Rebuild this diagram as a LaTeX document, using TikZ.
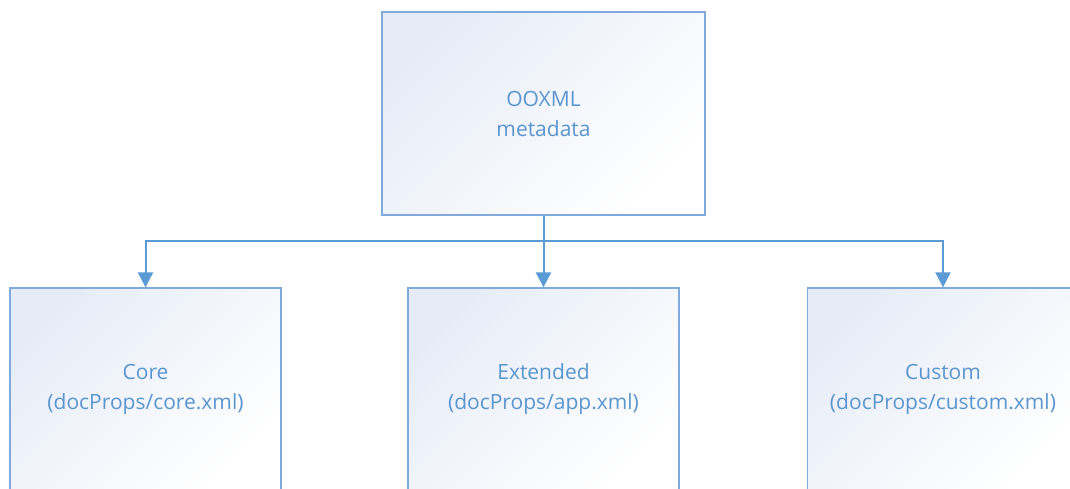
\documentclass[tikz,border=0pt]{standalone}
\usepackage{fontspec}
\setmainfont{Open Sans}
\usetikzlibrary{arrows.meta}
\definecolor{lineblue}{HTML}{5B9BD5}
\definecolor{boxedge}{HTML}{7FAADB}
\definecolor{txtblue}{HTML}{5B95D0}
\definecolor{shadeblue}{HTML}{E6ECF7}
\tikzset{
  x=1pt, y=-1pt,
  box/.style={draw=boxedge, line width=1.3pt, rectangle, inner sep=0pt,
    left color=shadeblue, right color=white, shading angle=45,
    text=txtblue, align=center, font=\fontsize{21}{30}\selectfont},
  conn/.style={draw=lineblue, line width=2pt},
  arr/.style={conn, -{Triangle[width=15pt,length=15pt]}},
}
\begin{document}
\begin{tikzpicture}
\useasboundingbox (0,0) rectangle (1070,488);
\clip (0,0) rectangle (1070,488);
\fill[white] (0,0) rectangle (1070,488);
\node[box, minimum width=323pt, minimum height=203pt] (top) at (543.5,113.5) {OOXML\\metadata};
\node[box, minimum width=271pt, minimum height=203pt] (core) at (145.5,389.5) {Core\\(docProps/core.xml)};
\node[box, minimum width=271pt, minimum height=203pt] (ext) at (543.5,389.5) {Extended\\(docProps/app.xml)};
\node[box, minimum width=271pt, minimum height=203pt] (cust) at (943,389.5) {Custom\\(docProps/custom.xml)};
\coordinate (j) at (543.5,241);
\draw[conn] (top.south) -- (j);
\draw[arr] (j) -| (core.north);
\draw[arr] (j) -| (cust.north);
\draw[arr] (j) -- (ext.north);
\end{tikzpicture}
\end{document}
